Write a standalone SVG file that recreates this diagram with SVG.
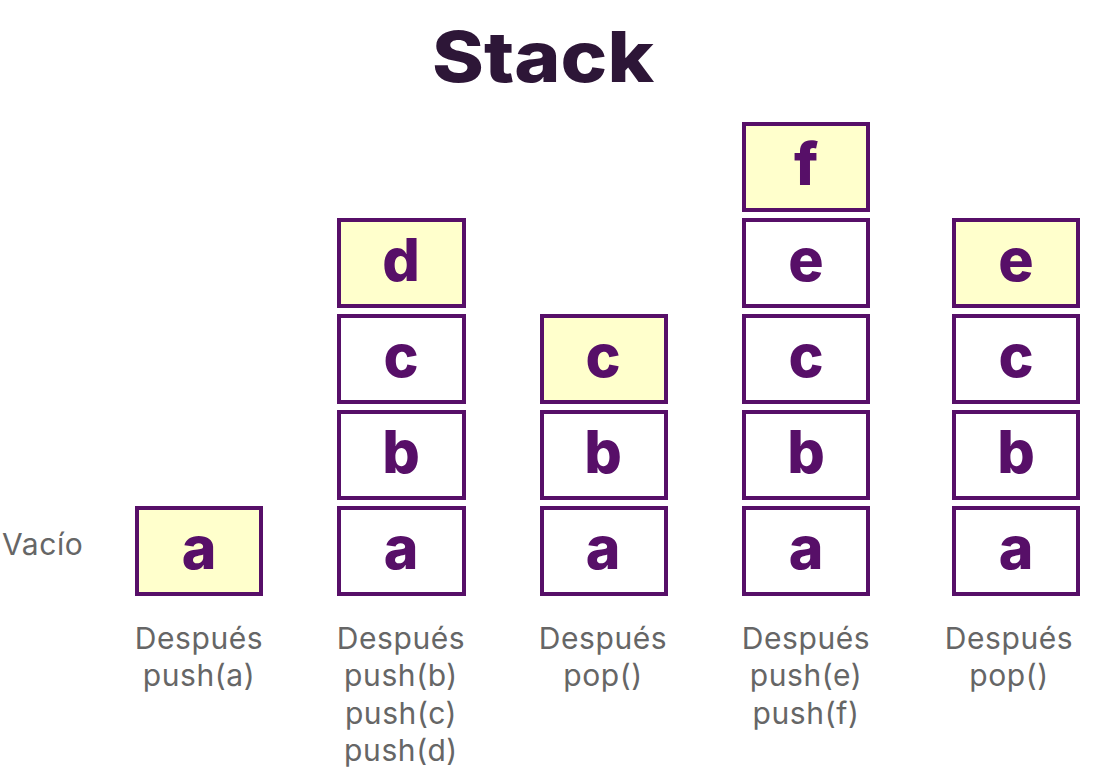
<svg xmlns="http://www.w3.org/2000/svg" width="1100" height="773" viewBox="0 0 1100 773">
<style>
.box{fill:#ffffff;stroke:#570f68;stroke-width:4}
.hl{fill:#ffffcc}
.ch{font-family:Inter,"Open Sans","Liberation Sans",sans-serif;font-weight:800;font-size:59px;fill:#570f68;text-anchor:middle}
.lb{font-family:Inter,"Open Sans","Liberation Sans",sans-serif;font-weight:400;font-size:30px;letter-spacing:0.6px;fill:#666666;text-anchor:middle}
.title{font-family:Inter,"Open Sans","Liberation Sans",sans-serif;font-weight:800;font-size:70px;fill:#2d1637;text-anchor:middle}
</style>
<rect width="1100" height="773" fill="#ffffff"/>
<text class="title" x="543" y="82" textLength="222" lengthAdjust="spacingAndGlyphs">Stack</text>
<g id="empty"><text class="lb" x="2" y="555" style="text-anchor:start">Vacío</text></g>
<g id="s1">
<rect class="box hl" x="137" y="508" width="124" height="86"/><text class="ch" x="199" y="569">a</text>
<text class="lb" x="199" y="649">Después</text><text class="lb" x="199" y="686">push(a)</text>
</g>
<g id="s2">
<rect class="box" x="339" y="508" width="125" height="86"/><text class="ch" x="401" y="569">a</text>
<rect class="box" x="339" y="412" width="125" height="86"/><text class="ch" x="401" y="473">b</text>
<rect class="box" x="339" y="316" width="125" height="86"/><text class="ch" x="401" y="377">c</text>
<rect class="box hl" x="339" y="220" width="125" height="86"/><text class="ch" x="401" y="281">d</text>
<text class="lb" x="401" y="649">Después</text><text class="lb" x="401" y="686">push(b)</text><text class="lb" x="401" y="724">push(c)</text><text class="lb" x="401" y="761">push(d)</text>
</g>
<g id="s3">
<rect class="box" x="542" y="508" width="124" height="86"/><text class="ch" x="603" y="569">a</text>
<rect class="box" x="542" y="412" width="124" height="86"/><text class="ch" x="603" y="473">b</text>
<rect class="box hl" x="542" y="316" width="124" height="86"/><text class="ch" x="603" y="377">c</text>
<text class="lb" x="603" y="649">Después</text><text class="lb" x="603" y="686">pop()</text>
</g>
<g id="s4">
<rect class="box" x="744" y="508" width="124" height="86"/><text class="ch" x="806" y="569">a</text>
<rect class="box" x="744" y="412" width="124" height="86"/><text class="ch" x="806" y="473">b</text>
<rect class="box" x="744" y="316" width="124" height="86"/><text class="ch" x="806" y="377">c</text>
<rect class="box" x="744" y="220" width="124" height="86"/><text class="ch" x="806" y="281">e</text>
<rect class="box hl" x="744" y="124" width="124" height="86"/><text class="ch" x="806" y="185">f</text>
<text class="lb" x="806" y="649">Después</text><text class="lb" x="806" y="686">push(e)</text><text class="lb" x="806" y="724">push(f)</text>
</g>
<g id="s5">
<rect class="box" x="954" y="508" width="124" height="86"/><text class="ch" x="1016" y="569">a</text>
<rect class="box" x="954" y="412" width="124" height="86"/><text class="ch" x="1016" y="473">b</text>
<rect class="box" x="954" y="316" width="124" height="86"/><text class="ch" x="1016" y="377">c</text>
<rect class="box hl" x="954" y="220" width="124" height="86"/><text class="ch" x="1016" y="281">e</text>
<text class="lb" x="1009" y="649">Después</text><text class="lb" x="1009" y="686">pop()</text>
</g>
<g id="connectors"/>
</svg>
